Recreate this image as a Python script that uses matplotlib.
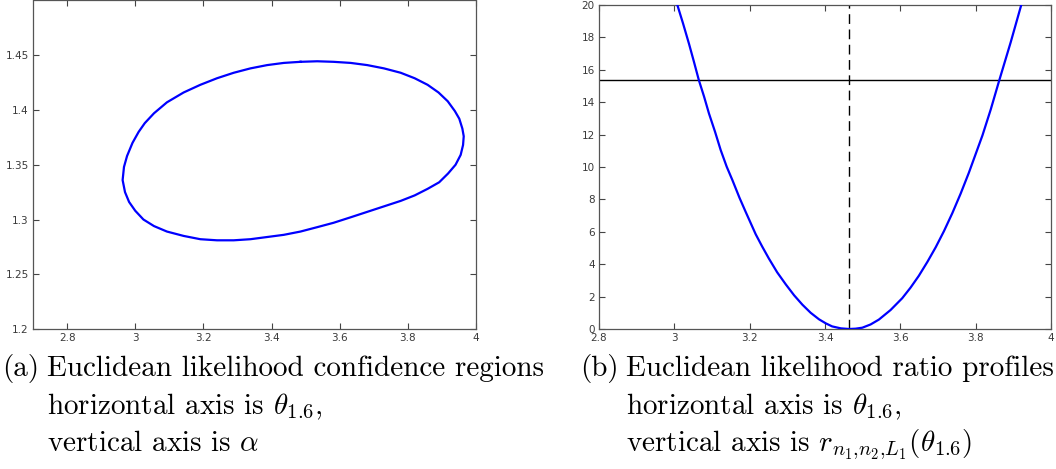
import matplotlib
matplotlib.use("Agg")
import matplotlib.pyplot as plt

# ---------------- data ----------------
# (a) confidence region boundary: theta_1.6 (x) vs alpha (y), closed loop
ell_x = [3.485, 3.534, 3.582, 3.632, 3.681, 3.730, 3.779, 3.820, 3.858, 3.890,
         3.917, 3.938, 3.951, 3.960, 3.964, 3.962, 3.955, 3.940, 3.918, 3.892,
         3.858, 3.820, 3.779, 3.730, 3.681, 3.632, 3.582, 3.534, 3.485, 3.436,
         3.387, 3.338, 3.289, 3.240, 3.191, 3.142, 3.093, 3.055, 3.024, 3.000,
         2.982, 2.970, 2.963, 2.967, 2.976, 2.992, 3.010, 3.028, 3.055, 3.093,
         3.142, 3.191, 3.240, 3.289, 3.338, 3.387, 3.436, 3.485]
ell_y = [1.444, 1.4445, 1.444, 1.443, 1.441, 1.438, 1.434, 1.429, 1.423, 1.416,
         1.408, 1.399, 1.392, 1.383, 1.376, 1.368, 1.359, 1.350, 1.342, 1.334,
         1.328, 1.322, 1.317, 1.312, 1.307, 1.302, 1.297, 1.293, 1.289, 1.286,
         1.284, 1.282, 1.281, 1.281, 1.282, 1.285, 1.289, 1.294, 1.300, 1.308,
         1.316, 1.325, 1.336, 1.348, 1.358, 1.370, 1.380, 1.388, 1.397, 1.407,
         1.416, 1.423, 1.429, 1.434, 1.438, 1.441, 1.443, 1.444]

# (b) Euclidean likelihood ratio profile
prof_x = [3.008, 3.023, 3.039, 3.052, 3.065, 3.079, 3.092, 3.108, 3.123, 3.139,
          3.154, 3.173, 3.189, 3.216, 3.233, 3.251, 3.273, 3.296, 3.318, 3.340,
          3.362, 3.384, 3.402, 3.419, 3.442, 3.464, 3.481, 3.499, 3.521, 3.543,
          3.574, 3.605, 3.627, 3.649, 3.672, 3.694, 3.716, 3.738, 3.760, 3.782,
          3.800, 3.818, 3.840, 3.862, 3.893, 3.921]
prof_y = [20.0, 18.87, 17.6, 16.5, 15.37, 14.34, 13.3, 12.18, 11.05, 10.02,
          9.2, 8.1, 7.25, 5.85, 5.1, 4.35, 3.5, 2.75, 2.08, 1.5,
          1.0, 0.6, 0.35, 0.16, 0.04, 0.0, 0.02, 0.08, 0.28, 0.58,
          1.17, 1.9, 2.55, 3.28, 4.15, 5.05, 6.05, 7.15, 8.35, 9.65,
          10.8, 11.95, 13.55, 15.3, 17.7, 20.0]
threshold = 15.37
estimate = 3.465

a_xticks = [2.8, 3.0, 3.2, 3.4, 3.6, 3.8, 4.0]
a_xlabels = ["2.8", "3", "3.2", "3.4", "3.6", "3.8", "4"]
a_yticks = [1.2, 1.25, 1.3, 1.35, 1.4, 1.45]
a_ylabels = ["1.2", "1.25", "1.3", "1.35", "1.4", "1.45"]
b_xticks = [2.8, 3.0, 3.2, 3.4, 3.6, 3.8, 4.0]
b_xlabels = ["2.8", "3", "3.2", "3.4", "3.6", "3.8", "4"]
b_yticks = [0, 2, 4, 6, 8, 10, 12, 14, 16, 18, 20]
b_ylabels = ["0", "2", "4", "6", "8", "10", "12", "14", "16", "18", "20"]

tag_a = "(a)"
tag_b = "(b)"
cap_a = ["Euclidean likelihood confidence regions",
         r"horizontal axis is $\theta_{1.6}$,",
         r"vertical axis is $\alpha$"]
cap_b = ["Euclidean likelihood ratio profiles",
         r"horizontal axis is $\theta_{1.6}$,",
         r"vertical axis is $r_{n_1{,}n_2{,}L_1}(\theta_{1.6})$"]

# ---------------- figure ----------------
plt.rcParams['mathtext.fontset'] = 'cm'
W, H = 1056, 469
fig = plt.figure(figsize=(W / 100, H / 100), dpi=100)


def box(l, r, t, b):
    return [l / W, (H - b) / H, (r - l) / W, (b - t) / H]


def style(ax, xt, xl, yt, yl):
    ax.set_xticks(xt)
    ax.set_xticklabels(xl)
    ax.set_yticks(yt)
    ax.set_yticklabels(yl)
    ax.tick_params(direction='in', length=4, width=0.8, top=True, right=True,
                   labelsize=7.5, labelcolor='#3a3a3a', color='#444444', pad=3)
    for s in ax.spines.values():
        s.set_color('#555555')
        s.set_linewidth(0.9)
    for lab in ax.get_xticklabels() + ax.get_yticklabels():
        lab.set_family('DejaVu Sans')


axa = fig.add_axes(box(33, 476, 0.5, 329))
axa.plot(ell_x, ell_y, color='#0000ff', lw=1.6, solid_joinstyle='round')
axa.set_xlim(2.7, 4.0)
axa.set_ylim(1.2, 1.5)
style(axa, a_xticks, a_xlabels, a_yticks, a_ylabels)

axb = fig.add_axes(box(599, 1051, 5, 329))
axb.plot(prof_x, prof_y, color='#0000ff', lw=1.6, zorder=3, solid_joinstyle='round')
axb.axhline(threshold, color='black', lw=1.0)
axb.axvline(estimate, color='black', lw=1.0, ls=(0, (7, 4)))
axb.set_xlim(2.8, 4.0)
axb.set_ylim(0, 20)
style(axb, b_xticks, b_xlabels, b_yticks, b_ylabels)

fs = 21
fam = 'cmr10'
base_y = [376, 414, 451]


def caption(tag, lines, x_tag, x_body):
    fig.text(x_tag / W, 1 - base_y[0] / H, tag, family=fam, fontsize=fs, va='baseline')
    for by, txt in zip(base_y, lines):
        fig.text(x_body / W, 1 - by / H, txt, family=fam, fontsize=fs, va='baseline')


caption(tag_a, cap_a, 2, 47)
caption(tag_b, cap_b, 580, 626)

fig.savefig('out.png', dpi=100)
